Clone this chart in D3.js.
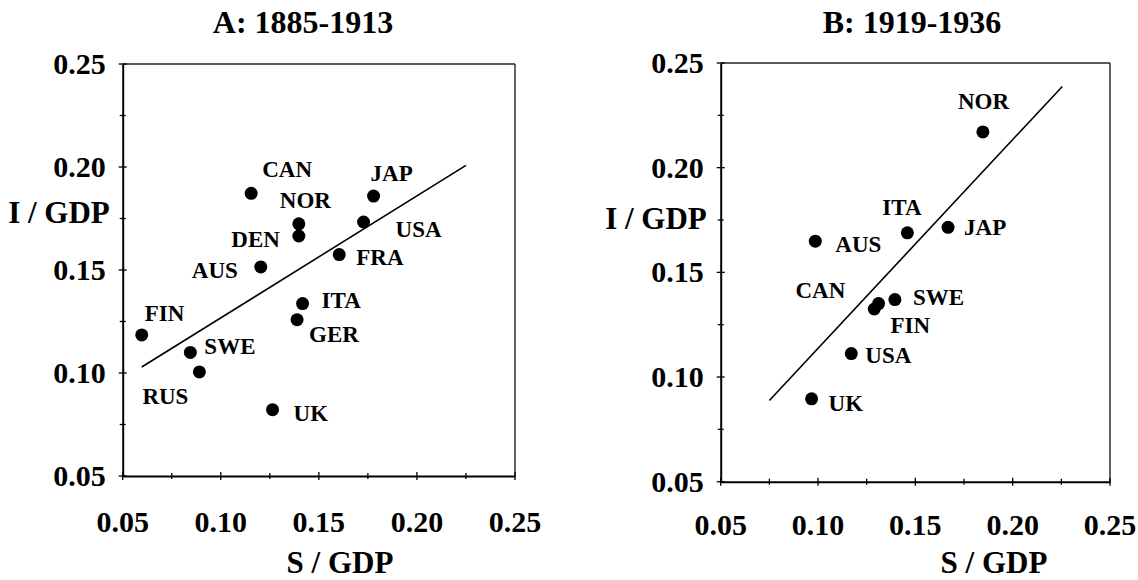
<!DOCTYPE html>
<html>
<head>
<meta charset="utf-8">
<script src="https://cdn.jsdelivr.net/npm/d3@7"></script>
<style>
  html, body { margin: 0; padding: 0; background: #fff; }
  svg { display: block; }
  text { font-family: "Liberation Serif", "Times New Roman", serif; font-weight: bold; fill: #000; }
</style>
</head>
<body>
<svg id="chart" width="1138" height="580"></svg>
<script>
// ---------------- DATA ----------------
const titleA = "A: 1885-1913";
const titleB = "B: 1919-1936";
const xAxisTitle = "S / GDP";
const yAxisTitle = "I / GDP";

const countriesA = ["CAN", "JAP", "NOR", "DEN", "USA", "FRA", "AUS", "ITA", "GER", "FIN", "SWE", "RUS", "UK"];
const savingsA   = [0.1155, 0.1779, 0.1398, 0.1398, 0.1728, 0.1604, 0.1204, 0.1417, 0.1389, 0.0597, 0.0845, 0.0891, 0.1264];
const investA    = [0.1872, 0.1859, 0.1724, 0.1665, 0.1733, 0.1575, 0.1515, 0.1337, 0.1259, 0.1185, 0.1100, 0.1005, 0.0822];
const fitA_S = [0.0597, 0.2250];
const fitA_I = [0.1029, 0.2008];

const countriesB = ["NOR", "ITA", "JAP", "AUS", "SWE", "FIN", "CAN", "USA", "UK"];
const savingsB   = [0.1847, 0.1459, 0.1668, 0.0986, 0.1395, 0.1311, 0.1289, 0.1171, 0.0967];
const investB    = [0.2171, 0.1689, 0.1715, 0.1649, 0.1370, 0.1351, 0.1325, 0.1112, 0.0896];
const fitB_S = [0.0750, 0.2255];
const fitB_I = [0.0888, 0.2388];

const majorTicks = [0.05, 0.10, 0.15, 0.20, 0.25];
const minorTicks = [0.075, 0.125, 0.175, 0.225];
const axisDomain = [0.05, 0.25];

// ---------------- LAYOUT ----------------
const panels = [
  {
    title: titleA, countries: countriesA, s: savingsA, i: investA, fitS: fitA_S, fitI: fitA_I,
    x0: 122.7, x1: 515, y0: 476, y1: 64,
    titleX: 303, titleY: 33, yTitleX: 59, yTitleY: 223, xTitleX: 340, xTitleY: 573, xLabelDy: 56,
    offsets: {
      CAN: [11, -16, "start"], JAP: [-3, -15, "start"], NOR: [-19, -16, "start"],
      DEN: [-19, 11, "end"], USA: [32, 15, "start"], FRA: [17, 10, "start"],
      AUS: [-23, 11, "end"], ITA: [19, 4, "start"], GER: [12, 22, "start"],
      FIN: [3, -14, "start"], SWE: [14, 2, "start"], RUS: [-57, 32, "start"],
      UK: [21, 11, "start"]
    }
  },
  {
    title: titleB, countries: countriesB, s: savingsB, i: investB, fitS: fitB_S, fitI: fitB_I,
    x0: 720.7, x1: 1110, y0: 481.7, y1: 63,
    titleX: 912, titleY: 33, yTitleX: 656, yTitleY: 229, xTitleX: 994, xTitleY: 573, xLabelDy: 53,
    offsets: {
      NOR: [-25, -23, "start"], ITA: [-25, -18, "start"], JAP: [16, 8, "start"],
      AUS: [20, 11, "start"], SWE: [18, 5, "start"], FIN: [12, 29, "start"],
      CAN: [-29, -11, "end"], USA: [14, 9, "start"], UK: [17, 12, "start"]
    }
  }
];

const svg = d3.select("#chart");
const fmt = d3.format(".2f");

panels.forEach(p => {
  const x = d3.scaleLinear().domain(axisDomain).range([p.x0, p.x1]);
  const y = d3.scaleLinear().domain(axisDomain).range([p.y0, p.y1]);
  const g = svg.append("g");

  // frame (top & right)
  g.append("line").attr("x1", x(0.05)).attr("x2", x(0.25)).attr("y1", y(0.25)).attr("y2", y(0.25))
    .attr("stroke", "#222").attr("stroke-width", 1.4);
  g.append("line").attr("x1", x(0.25)).attr("x2", x(0.25)).attr("y1", y(0.05)).attr("y2", y(0.25))
    .attr("stroke", "#222").attr("stroke-width", 1.4);

  // bottom axis
  const xAxis = g.append("g").attr("transform", `translate(0,${y(0.05)})`)
    .call(d3.axisBottom(x).tickValues(majorTicks).tickSize(0).tickFormat(""));
  xAxis.select(".domain").attr("stroke", "#000").attr("stroke-width", 2);
  g.selectAll(".xtick").data(majorTicks.concat(minorTicks)).enter().append("line")
    .attr("x1", d => x(d)).attr("x2", d => x(d))
    .attr("y1", d => y(0.05) - (majorTicks.includes(d) ? 4 : 3))
    .attr("y2", d => y(0.05) + (majorTicks.includes(d) ? 4 : 3))
    .attr("stroke", "#000").attr("stroke-width", 1.3);
  g.selectAll(".xlab").data(majorTicks).enter().append("text")
    .attr("x", d => x(d)).attr("y", y(0.05) + p.xLabelDy)
    .attr("text-anchor", "middle").style("font-size", "30px").text(d => fmt(d));

  // left axis
  const yAxis = g.append("g").attr("transform", `translate(${x(0.05)},0)`)
    .call(d3.axisLeft(y).tickValues(majorTicks).tickSize(0).tickFormat(""));
  yAxis.select(".domain").attr("stroke", "#000").attr("stroke-width", 2);
  g.selectAll(".ytick").data(majorTicks.concat(minorTicks)).enter().append("line")
    .attr("y1", d => y(d)).attr("y2", d => y(d))
    .attr("x1", d => x(0.05) - (majorTicks.includes(d) ? 4 : 3))
    .attr("x2", d => x(0.05) + (majorTicks.includes(d) ? 4 : 3))
    .attr("stroke", "#000").attr("stroke-width", 1.3);
  g.selectAll(".ylab").data(majorTicks).enter().append("text")
    .attr("x", x(0.05) - 17).attr("y", d => y(d) + 10)
    .attr("text-anchor", "end").style("font-size", "30px").text(d => fmt(d));

  // titles
  g.append("text").attr("x", p.titleX).attr("y", p.titleY).attr("text-anchor", "middle")
    .style("font-size", "32px").text(p.title);
  g.append("text").attr("x", p.yTitleX).attr("y", p.yTitleY).attr("text-anchor", "middle")
    .style("font-size", "31px").text(yAxisTitle);
  g.append("text").attr("x", p.xTitleX).attr("y", p.xTitleY).attr("text-anchor", "middle")
    .style("font-size", "31px").text(xAxisTitle);

  // regression line
  const fit = p.fitS.map((s, k) => [s, p.fitI[k]]);
  g.append("path").datum(fit)
    .attr("d", d3.line().x(d => x(d[0])).y(d => y(d[1])))
    .attr("fill", "none").attr("stroke", "#000").attr("stroke-width", 1.6);

  // points
  const pts = p.countries.map((c, k) => ({ c, s: p.s[k], i: p.i[k] }));
  g.selectAll(".dot").data(pts).enter().append("circle")
    .attr("cx", d => x(d.s)).attr("cy", d => y(d.i)).attr("r", 6.5).attr("fill", "#000");
  g.selectAll(".lab").data(pts).enter().append("text")
    .attr("x", d => x(d.s) + p.offsets[d.c][0])
    .attr("y", d => y(d.i) + p.offsets[d.c][1])
    .attr("text-anchor", d => p.offsets[d.c][2])
    .style("font-size", "23px").text(d => d.c);
});
</script>
</body>
</html>
